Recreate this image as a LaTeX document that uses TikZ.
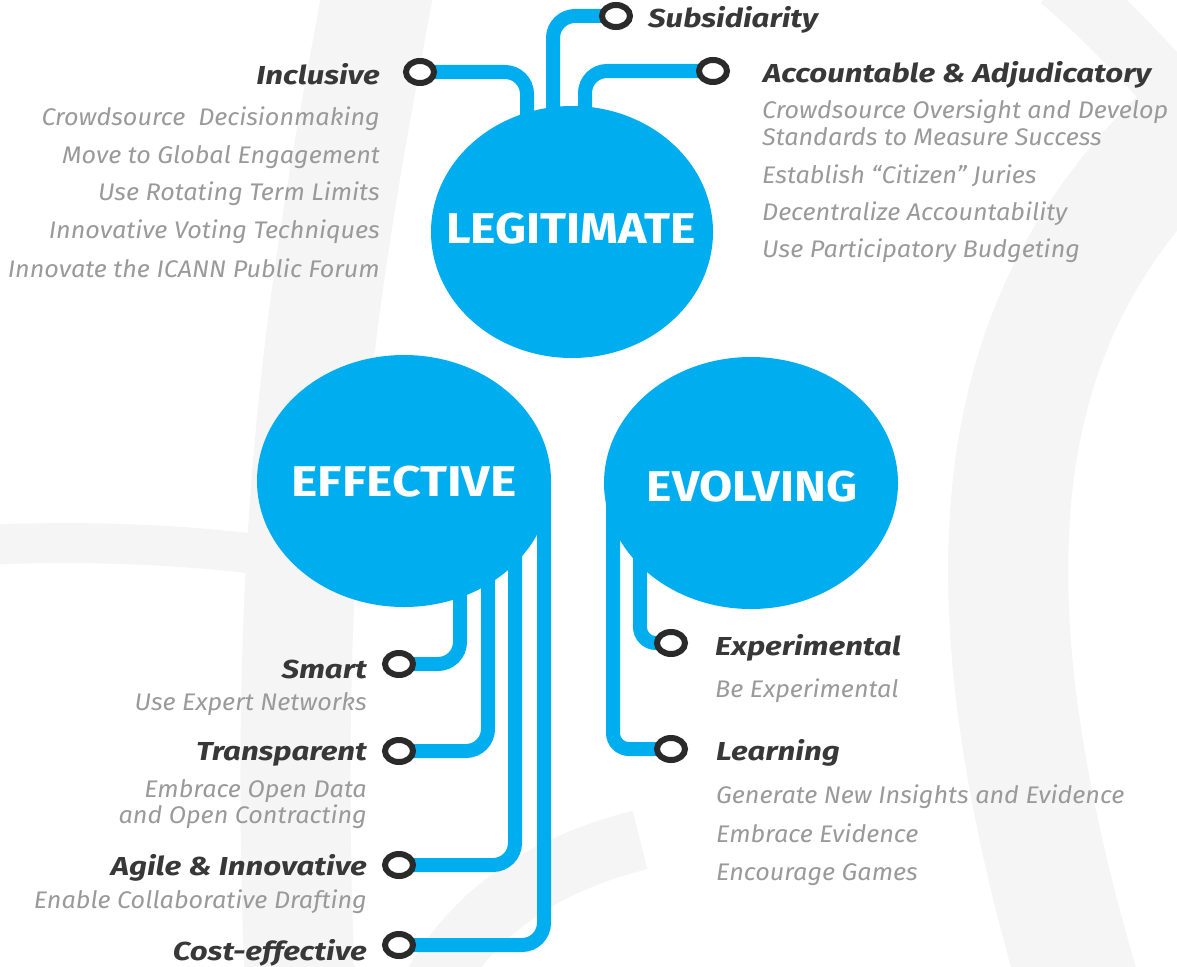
\documentclass[tikz,border=0pt]{standalone}
\usepackage{fontspec}
\setmainfont{Fira Sans}
\usetikzlibrary{shapes.geometric,backgrounds,calc}
\definecolor{icblue}{HTML}{00AEEF}
\definecolor{labgray}{HTML}{383838}
\definecolor{descgray}{HTML}{9A9A9A}
\definecolor{ringgray}{HTML}{2A2A2A}
\definecolor{wm}{HTML}{F5F5F5}
\begin{document}
\begin{tikzpicture}[x=1pt,y=-1pt,
  conn/.style={draw=icblue,line width=14pt,rounded corners=22pt},
  ring/.style={ellipse,draw=ringgray,line width=6pt,fill=white,minimum width=28pt,minimum height=22pt,inner sep=0pt},
  big/.style={ellipse,fill=icblue,minimum width=294pt,minimum height=252pt,inner sep=0pt},
  title/.style={inner sep=0pt,text=white,font=\bfseries\fontsize{43}{50}\selectfont},
  lab/.style={inner sep=0pt,text=labgray,font=\bfseries\itshape\fontsize{26}{30}\selectfont},
  desc/.style={inner sep=0pt,text=descgray,font=\itshape\fontsize{24}{28}\selectfont},
  wmline/.style={draw=wm,line width=70pt}]
\useasboundingbox (0,0) rectangle (1177,966);

% main circles
\node[big,minimum width=282pt] (leg) at (572,232) {};
\node[big] (eff) at (404,481) {};
\node[big] (evo) at (751,483) {};
\node[title] (tleg) at (571,229) {\scalebox{1.12}[1]{LEGITIMATE}};
\node[title] (teff) at (404,482) {\scalebox{1.16}[1]{EFFECTIVE}};
\node[title] (tevo) at (752,487) {\scalebox{1.12}[1]{EVOLVING}};

% rings
\node[ring] (inc) at (420,72) {};
\node[ring] (sub) at (616,16) {};
\node[ring] (acc) at (713,71) {};
\node[ring] (smart) at (399,664) {};
\node[ring] (transp) at (399,751) {};
\node[ring] (agile) at (399,865) {};
\node[ring] (cost) at (399,945) {};
\node[ring] (exper) at (671,643) {};
\node[ring] (learn) at (671,749) {};

% labels
\node[lab,anchor=base east] (tinc) at (380,84) {\scalebox{1.2}[1]{Inclusive}};
\node[lab,anchor=base west] (tsub) at (648,28) {\scalebox{1.2}[1]{Subsidiarity}};
\node[lab,anchor=base west] (tacc) at (763,82) {\scalebox{1.2}[1]{Accountable \& Adjudicatory}};
\node[lab,anchor=base east] (tsmart) at (367,678) {\scalebox{1.2}[1]{Smart}};
\node[lab,anchor=base east] (ttransp) at (367,760) {\scalebox{1.2}[1]{Transparent}};
\node[lab,anchor=base east] (tagile) at (367,875) {\scalebox{1.2}[1]{Agile \& Innovative}};
\node[lab,anchor=base east] (tcost) at (367,960) {\scalebox{1.2}[1]{Cost-effective}};
\node[lab,anchor=base west] (texper) at (715,655) {\scalebox{1.2}[1]{Experimental}};
\node[lab,anchor=base west] (tlearn) at (716,760) {\scalebox{1.2}[1]{Learning}};

% descriptions
\node[desc,anchor=base east] (d1) at (380,125) {\scalebox{1.05}[1]{Crowdsource\ \ Decisionmaking}};
\node[desc,anchor=base east] (d2) at (380,163) {\scalebox{1.05}[1]{Move to Global Engagement}};
\node[desc,anchor=base east] (d3) at (380,200) {\scalebox{1.05}[1]{Use Rotating Term Limits}};
\node[desc,anchor=base east] (d4) at (380,238) {\scalebox{1.05}[1]{Innovative Voting Techniques}};
\node[desc,anchor=base east] (d5) at (380,277) {\scalebox{1.05}[1]{Innovate the ICANN Public Forum}};
\node[desc,anchor=base west] (d6) at (762,118) {\scalebox{1.05}[1]{Crowdsource Oversight and Develop}};
\node[desc,anchor=base west] (d7) at (762,145) {\scalebox{1.05}[1]{Standards to Measure Success}};
\node[desc,anchor=base west] (d8) at (762,183) {\scalebox{1.05}[1]{Establish “Citizen” Juries}};
\node[desc,anchor=base west] (d9) at (762,220) {\scalebox{1.05}[1]{Decentralize Accountability}};
\node[desc,anchor=base west] (d10) at (762,257) {\scalebox{1.05}[1]{Use Participatory Budgeting}};
\node[desc,anchor=base east] (d11) at (367,710) {\scalebox{1.05}[1]{Use Expert Networks}};
\node[desc,anchor=base east] (d12) at (367,797) {\scalebox{1.05}[1]{Embrace Open Data}};
\node[desc,anchor=base east] (d13) at (367,823) {\scalebox{1.05}[1]{and Open Contracting}};
\node[desc,anchor=base east] (d14) at (367,908) {\scalebox{1.05}[1]{Enable Collaborative Drafting}};
\node[desc,anchor=base west] (d15) at (715,697) {\scalebox{1.05}[1]{Be Experimental}};
\node[desc,anchor=base west] (d16) at (716,803) {\scalebox{1.05}[1]{Generate New Insights and Evidence}};
\node[desc,anchor=base west] (d17) at (716,842) {\scalebox{1.05}[1]{Embrace Evidence}};
\node[desc,anchor=base west] (d18) at (716,880) {\scalebox{1.05}[1]{Encourage Games}};

\begin{scope}[on background layer]
  \fill[white] (0,0) rectangle (1177,966);
  % faint watermark
  \begin{scope}
    \clip (0,0) rectangle (1177,966);
    \draw[wmline,line width=110pt] (380,-20) .. controls (330,250) and (280,500) .. (300,990);
    \draw[wmline,line width=40pt] (-20,545) .. controls (100,540) and (200,545) .. (300,560);
    \draw[wmline,line width=120pt] (1200,120) .. controls (1000,300) and (950,550) .. (1080,990);
    \draw[wmline,line width=60pt] (1060,-20) .. controls (1120,30) and (1160,80) .. (1200,120);
    \draw[wmline,line width=60pt] (430,990) .. controls (480,900) and (560,860) .. (640,840);
  \end{scope}
  % connectors
  \draw[conn] (inc.center) -| ($(leg.center)+(-45,0)$);
  \draw[conn] (sub.center) -| ($(leg.center)+(-19,0)$);
  \draw[conn] (acc.center) -| ($(leg.center)+(13,0)$);
  \draw[conn] ($(eff.center)+(56,0)$) |- (smart.center);
  \draw[conn] ($(eff.center)+(84,0)$) |- (transp.center);
  \draw[conn] ($(eff.center)+(111,0)$) |- (agile.center);
  \draw[conn] ($(eff.center)+(140,0)$) |- (cost.center);
  \draw[conn,rounded corners=16pt] ($(evo.center)+(-111,0)$) |- (exper.center);
  \draw[conn,rounded corners=16pt] ($(evo.center)+(-138,0)$) |- (learn.center);
\end{scope}
\end{tikzpicture}
\end{document}
